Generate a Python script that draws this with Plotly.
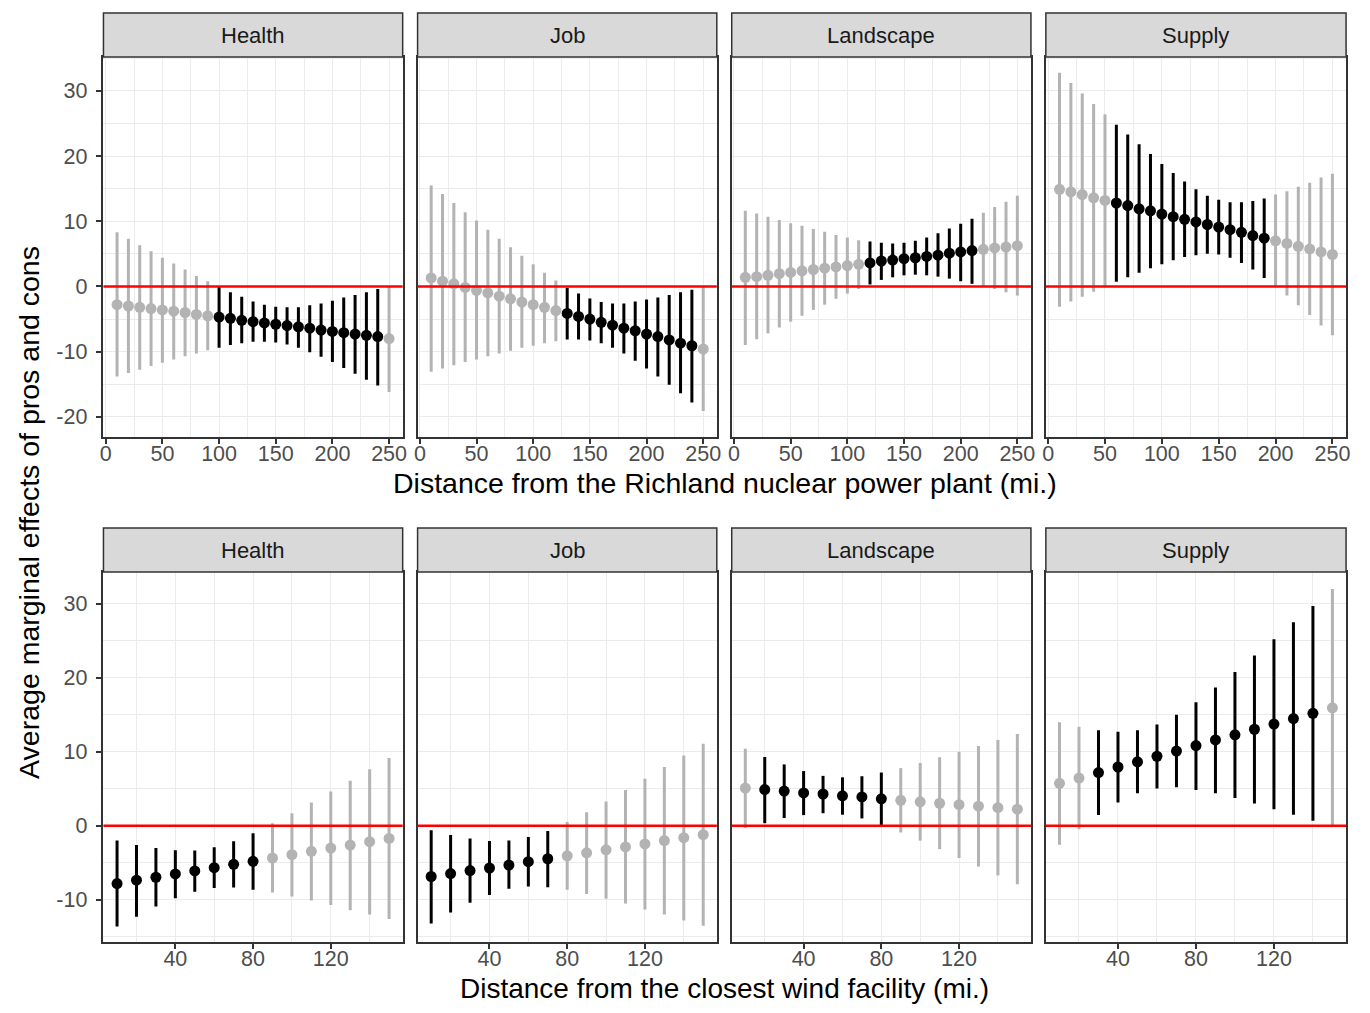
import plotly.graph_objects as go

# ---------------- data ----------------
facets = ["Health", "Job", "Landscape", "Supply"]

top_x = [10, 20, 30, 40, 50, 60, 70, 80, 90, 100, 110, 120, 130, 140, 150,
         160, 170, 180, 190, 200, 210, 220, 230, 240, 250]
bot_x = [10, 20, 30, 40, 50, 60, 70, 80, 90, 100, 110, 120, 130, 140, 150]

# Richland nuclear power plant (top row)
health_top_est = [-2.8, -3.0, -3.2, -3.4, -3.6, -3.8, -4.0, -4.3, -4.5, -4.7, -4.9, -5.2, -5.4, -5.6, -5.8, -6.0, -6.2, -6.4, -6.7, -6.9, -7.1, -7.3, -7.5, -7.7, -8.0]
health_top_lo = [-13.8, -13.3, -12.8, -12.2, -11.7, -11.2, -10.7, -10.3, -9.8, -9.4, -9.0, -8.7, -8.5, -8.5, -8.6, -8.9, -9.4, -10.1, -10.8, -11.6, -12.5, -13.4, -14.3, -15.2, -16.2]
health_top_hi = [8.3, 7.3, 6.3, 5.4, 4.4, 3.5, 2.6, 1.6, 0.8, -0.1, -0.9, -1.6, -2.3, -2.8, -3.1, -3.2, -3.2, -2.9, -2.6, -2.2, -1.7, -1.3, -0.9, -0.4, 0.05]
health_top_sig = [0, 0, 0, 0, 0, 0, 0, 0, 0, 1, 1, 1, 1, 1, 1, 1, 1, 1, 1, 1, 1, 1, 1, 1, 0]

job_top_est = [1.3, 0.8, 0.4, -0.15, -0.6, -1.0, -1.5, -1.9, -2.4, -2.8, -3.2, -3.7, -4.15, -4.6, -5.0, -5.5, -5.95, -6.4, -6.8, -7.3, -7.7, -8.2, -8.7, -9.1, -9.6]
job_top_lo = [-13.1, -12.6, -12.1, -11.6, -11.2, -10.7, -10.3, -9.85, -9.4, -9.1, -8.7, -8.4, -8.15, -8.15, -8.3, -8.7, -9.4, -10.3, -11.4, -12.6, -13.8, -15.1, -16.4, -17.8, -19.1]
job_top_hi = [15.5, 14.2, 12.8, 11.4, 10.1, 8.7, 7.3, 6.0, 4.7, 3.4, 2.1, 0.9, -0.2, -1.1, -1.85, -2.4, -2.6, -2.6, -2.3, -2.0, -1.7, -1.3, -0.9, -0.5, 0.0]
job_top_sig = [0, 0, 0, 0, 0, 0, 0, 0, 0, 0, 0, 0, 1, 1, 1, 1, 1, 1, 1, 1, 1, 1, 1, 1, 0]

land_top_est = [1.4, 1.5, 1.7, 1.95, 2.15, 2.4, 2.6, 2.8, 3.0, 3.2, 3.4, 3.6, 3.9, 4.05, 4.25, 4.4, 4.6, 4.8, 5.1, 5.3, 5.5, 5.7, 5.9, 6.05, 6.25]
land_top_lo = [-9.0, -8.1, -7.2, -6.3, -5.4, -4.5, -3.6, -2.8, -1.9, -1.1, -0.4, 0.3, 1.0, 1.4, 1.7, 1.8, 1.7, 1.5, 1.2, 0.8, 0.4, 0.0, -0.4, -0.9, -1.4]
land_top_hi = [11.6, 11.2, 10.7, 10.2, 9.7, 9.3, 8.8, 8.4, 7.9, 7.5, 7.1, 6.9, 6.7, 6.6, 6.7, 7.0, 7.5, 8.15, 8.9, 9.6, 10.4, 11.3, 12.2, 13.0, 13.9]
land_top_sig = [0, 0, 0, 0, 0, 0, 0, 0, 0, 0, 0, 1, 1, 1, 1, 1, 1, 1, 1, 1, 1, 0, 0, 0, 0]

supply_top_est = [14.9, 14.5, 14.1, 13.6, 13.2, 12.8, 12.4, 11.9, 11.6, 11.1, 10.7, 10.3, 9.9, 9.5, 9.1, 8.7, 8.3, 7.8, 7.4, 7.0, 6.6, 6.15, 5.75, 5.3, 4.9]
supply_top_lo = [-3.1, -2.3, -1.6, -0.8, -0.05, 0.7, 1.4, 2.1, 2.8, 3.4, 4.0, 4.5, 4.8, 5.0, 4.9, 4.4, 3.6, 2.6, 1.3, 0.0, -1.4, -2.9, -4.4, -6.0, -7.5]
supply_top_hi = [32.8, 31.2, 29.6, 28.0, 26.4, 24.8, 23.3, 21.8, 20.3, 18.8, 17.4, 16.1, 14.9, 13.9, 13.3, 12.9, 12.9, 13.1, 13.5, 14.1, 14.6, 15.3, 15.9, 16.7, 17.3]
supply_top_sig = [0, 0, 0, 0, 0, 1, 1, 1, 1, 1, 1, 1, 1, 1, 1, 1, 1, 1, 1, 0, 0, 0, 0, 0, 0]

# Closest wind facility (bottom row)
health_bot_est = [-7.8, -7.35, -6.95, -6.5, -6.1, -5.65, -5.2, -4.8, -4.35, -3.9, -3.45, -3.0, -2.6, -2.15, -1.7]
health_bot_lo = [-13.6, -12.3, -10.9, -9.8, -8.9, -8.4, -8.35, -8.65, -9.0, -9.55, -10.1, -10.7, -11.4, -12.0, -12.6]
health_bot_hi = [-2.0, -2.6, -3.0, -3.3, -3.35, -2.9, -2.1, -1.0, 0.35, 1.7, 3.15, 4.65, 6.1, 7.65, 9.15]
health_bot_sig = [1, 1, 1, 1, 1, 1, 1, 1, 0, 0, 0, 0, 0, 0, 0]

job_bot_est = [-6.85, -6.45, -6.05, -5.7, -5.3, -4.85, -4.45, -4.05, -3.65, -3.25, -2.85, -2.45, -2.0, -1.6, -1.2]
job_bot_lo = [-13.2, -11.7, -10.4, -9.35, -8.5, -8.2, -8.3, -8.65, -9.2, -9.85, -10.5, -11.3, -12.0, -12.8, -13.5]
job_bot_hi = [-0.6, -1.25, -1.7, -2.05, -2.0, -1.5, -0.7, 0.5, 1.85, 3.3, 4.85, 6.35, 7.95, 9.5, 11.1]
job_bot_sig = [1, 1, 1, 1, 1, 1, 1, 0, 0, 0, 0, 0, 0, 0, 0]

land_bot_est = [5.1, 4.9, 4.7, 4.45, 4.3, 4.05, 3.9, 3.65, 3.45, 3.25, 3.05, 2.85, 2.65, 2.45, 2.25]
land_bot_lo = [-0.3, 0.35, 1.05, 1.45, 1.7, 1.5, 1.0, 0.1, -0.9, -2.0, -3.15, -4.35, -5.5, -6.7, -7.9]
land_bot_hi = [10.4, 9.3, 8.3, 7.4, 6.75, 6.55, 6.7, 7.2, 7.8, 8.5, 9.25, 10.0, 10.8, 11.6, 12.4]
land_bot_sig = [0, 1, 1, 1, 1, 1, 1, 1, 0, 0, 0, 0, 0, 0, 0]

supply_bot_est = [5.75, 6.45, 7.2, 7.95, 8.65, 9.4, 10.1, 10.85, 11.6, 12.3, 13.05, 13.75, 14.5, 15.2, 15.95]
supply_bot_lo = [-2.55, -0.45, 1.45, 3.15, 4.4, 5.05, 5.2, 4.85, 4.4, 3.75, 3.0, 2.25, 1.5, 0.7, -0.1]
supply_bot_hi = [14.0, 13.4, 12.9, 12.7, 12.9, 13.7, 15.0, 16.7, 18.7, 20.8, 23.0, 25.2, 27.5, 29.7, 32.0]
supply_bot_sig = [0, 0, 1, 1, 1, 1, 1, 1, 1, 1, 1, 1, 1, 1, 0]

top_tickvals_x = [0, 50, 100, 150, 200, 250]
bot_tickvals_x = [40, 80, 120]
top_tickvals_y = [-20, -10, 0, 10, 20, 30]
bot_tickvals_y = [-10, 0, 10, 20, 30]

y_title = "Average marginal effects of pros and cons"
top_x_title = "Distance from the Richland nuclear power plant (mi.)"
bot_x_title = "Distance from the closest wind facility (mi.)"

# ---------------- layout geometry (screen pixels of the target) ----------------
SW, SH = 1370, 1013
OFF = 8  # default page body margin
W, H = SW - 2 * OFF, SH - 2 * OFF
col_px = [(100, 401), (416, 717), (732, 1033), (1048, 1350)]
top_panel_px = (57, 437)
bot_panel_px = (572, 942)
top_strip_px = (13, 57)
bot_strip_px = (528, 572)

FONT = "Liberation Sans, Arial, Helvetica, sans-serif"
GREY = "#B3B3B3"
BLACK = "#000000"
GRID = "#EBEBEB"
BORDER = "#333333"
TICK_SIZE = 21.5
STRIP_SIZE = 22
TITLE_SIZE = 28.5


def xf(px):
    return (px - OFF) / W


def yf(px):
    return 1 - (px - OFF) / H


panels = [
    (top_x, health_top_est, health_top_lo, health_top_hi, health_top_sig),
    (top_x, job_top_est, job_top_lo, job_top_hi, job_top_sig),
    (top_x, land_top_est, land_top_lo, land_top_hi, land_top_sig),
    (top_x, supply_top_est, supply_top_lo, supply_top_hi, supply_top_sig),
    (bot_x, health_bot_est, health_bot_lo, health_bot_hi, health_bot_sig),
    (bot_x, job_bot_est, job_bot_lo, job_bot_hi, job_bot_sig),
    (bot_x, land_bot_est, land_bot_lo, land_bot_hi, land_bot_sig),
    (bot_x, supply_bot_est, supply_bot_lo, supply_bot_hi, supply_bot_sig),
]

fig = go.Figure()
shapes = []
annotations = []
layout_axes = {}

for i, (xs, est, lo, hi, sig) in enumerate(panels):
    n = i + 1
    suffix = "" if n == 1 else str(n)
    row = i // 4
    col = i % 4
    for flag, color in ((0, GREY), (1, BLACK)):
        px_ = [x for x, s in zip(xs, sig) if s == flag]
        pe = [e for e, s in zip(est, sig) if s == flag]
        pl = [e - l for e, l, s in zip(est, lo, sig) if s == flag]
        ph = [h - e for e, h, s in zip(est, hi, sig) if s == flag]
        fig.add_trace(go.Scatter(
            x=px_, y=pe, mode="markers",
            marker=dict(color=color, size=11, line=dict(width=0)),
            error_y=dict(type="data", symmetric=False, array=ph, arrayminus=pl,
                         width=0, thickness=3, color=color),
            xaxis="x" + suffix, yaxis="y" + suffix, showlegend=False,
            hoverinfo="x+y",
        ))

    x0, x1 = col_px[col]
    if row == 0:
        p0, p1 = top_panel_px
        s0, s1 = top_strip_px
        xr = [-2, 262]
        yr = [-23.1, 35.2]
        xt = top_tickvals_x
        yt = top_tickvals_y
        xminor = 25
        yminor = 5
    else:
        p0, p1 = bot_panel_px
        s0, s1 = bot_strip_px
        xr = [3, 157]
        yr = [-15.7, 34.3]
        xt = bot_tickvals_x
        yt = bot_tickvals_y
        xminor = 20
        yminor = 5

    layout_axes["xaxis" + suffix] = dict(
        domain=[xf(x0), xf(x1)], anchor="y" + suffix, range=xr,
        tickmode="array", tickvals=xt, ticktext=[str(v) for v in xt],
        showgrid=True, gridcolor=GRID, gridwidth=1.4,
        minor=dict(tick0=0, dtick=xminor, showgrid=True, gridcolor=GRID, gridwidth=0.8, ticks=""),
        zeroline=False, showline=True, mirror=True, linecolor=BORDER, linewidth=1.5,
        ticks="outside", ticklen=5, tickwidth=1.5, tickcolor=BORDER,
        ticklabelstandoff=-9,
        tickfont=dict(family=FONT, size=TICK_SIZE, color="#4D4D4D"),
        fixedrange=True,
    )
    layout_axes["yaxis" + suffix] = dict(
        domain=[yf(p1), yf(p0)], anchor="x" + suffix, range=yr,
        tickmode="array", tickvals=yt, ticktext=[str(v) for v in yt],
        showgrid=True, gridcolor=GRID, gridwidth=1.4,
        minor=dict(tick0=0, dtick=yminor, showgrid=True, gridcolor=GRID, gridwidth=0.8, ticks=""),
        zeroline=False, showline=True, mirror=True, linecolor=BORDER, linewidth=1.5,
        ticks="outside" if col == 0 else "", ticklen=6, tickwidth=1.5, tickcolor=BORDER,
        ticklabelstandoff=4,
        showticklabels=(col == 0),
        tickfont=dict(family=FONT, size=TICK_SIZE, color="#4D4D4D"),
        fixedrange=True,
    )

    # zero reference line
    shapes.append(dict(type="line", xref="x" + suffix + " domain", x0=0, x1=1,
                       yref="y" + suffix, y0=0, y1=0,
                       line=dict(color="#FF0000", width=2.5), layer="above"))
    # strip
    shapes.append(dict(type="rect", xref="paper", yref="paper",
                       x0=xf(x0), x1=xf(x1), y0=yf(s1), y1=yf(s0),
                       fillcolor="#D9D9D9", line=dict(color=BORDER, width=1.5),
                       layer="above"))
    annotations.append(dict(text=facets[col], xref="paper", yref="paper",
                            x=xf((x0 + x1) / 2), y=yf((s0 + s1) / 2),
                            xanchor="center", yanchor="middle", showarrow=False,
                            font=dict(family=FONT, size=STRIP_SIZE, color="#1A1A1A")))

annotations.append(dict(text=top_x_title, xref="paper", yref="paper",
                        x=xf(725), y=yf(483), xanchor="center", yanchor="middle",
                        showarrow=False, font=dict(family=FONT, size=TITLE_SIZE, color="#000000")))
annotations.append(dict(text=bot_x_title, xref="paper", yref="paper",
                        x=xf(725), y=yf(988), xanchor="center", yanchor="middle",
                        showarrow=False, font=dict(family=FONT, size=TITLE_SIZE - 0.5, color="#000000")))
annotations.append(dict(text=y_title, xref="paper", yref="paper",
                        x=xf(25), y=yf(512), xanchor="center", yanchor="middle",
                        textangle=-90, showarrow=False,
                        font=dict(family=FONT, size=TITLE_SIZE, color="#000000")))

fig.update_layout(
    width=W, height=H,
    margin=dict(l=0, r=0, t=0, b=0),
    paper_bgcolor="white", plot_bgcolor="white",
    shapes=shapes, annotations=annotations,
    showlegend=False,
    **layout_axes,
)

fig.write_html("out.html")
